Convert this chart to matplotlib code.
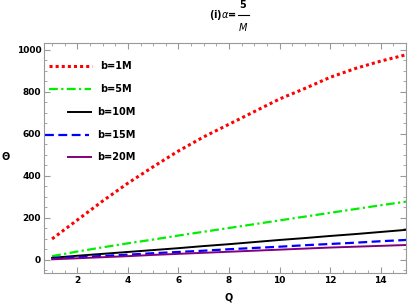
import matplotlib
matplotlib.use("Agg")
import matplotlib.pyplot as plt
from matplotlib.ticker import MultipleLocator

Q = [1, 2, 3, 4, 5, 6, 7, 8, 9, 10, 11, 12, 13, 14, 15]
b1 = [100, 190, 280, 365, 443, 518, 585, 645, 705, 765, 815, 868, 910, 945, 975]
b5 = [18, 40, 60, 79, 97, 116, 134, 152, 170, 188, 206, 224, 242, 260, 277]
b10 = [10, 20, 29, 38, 47, 56, 66, 75, 85, 95, 104, 114, 123, 133, 143]
b15 = [6, 13, 19, 25, 32, 38, 44, 51, 57, 63, 70, 76, 82, 89, 95]
b20 = [3, 8, 13, 18, 24, 29, 34, 39, 44, 49, 54, 59, 63, 67, 71]
labels = ["b=1M", "b=5M", "b=10M", "b=15M", "b=20M"]

fig = plt.figure(figsize=(4.15, 3.04), dpi=100)
W, H = 415, 304
ax = fig.add_axes([44 / W, 1 - 273 / H, (406 - 44) / W, (273 - 43) / H])

styles = [
    dict(color="#ff0000", linestyle=(0, (1, 1)), linewidth=2.2),
    dict(color="#00ee00", linestyle=(0, (4, 1.5, 1, 1.5)), linewidth=1.6),
    dict(color="black", linestyle="-", linewidth=1.4),
    dict(color="#0000ff", linestyle=(0, (4, 2)), linewidth=1.6),
    dict(color="#800080", linestyle="-", linewidth=1.4),
]
series = [b1, b5, b10, b15, b20]
for s, st in zip(series, styles):
    ax.plot(Q, s, **st)

ax.set_xlim(0.68, 15.0)
ax.set_ylim(-62, 1031)
ax.xaxis.set_major_locator(MultipleLocator(2))
ax.xaxis.set_minor_locator(MultipleLocator(0.5))
ax.yaxis.set_major_locator(MultipleLocator(200))
ax.yaxis.set_minor_locator(MultipleLocator(50))
ax.tick_params(which="both", direction="in", top=True, right=True, color="#999999")
ax.tick_params(which="major", length=4, width=0.8, labelsize=6.5, pad=2)
ax.tick_params(which="minor", length=2, width=0.6)
for lab in ax.get_xticklabels() + ax.get_yticklabels():
    lab.set_fontweight("bold")
for sp in ax.spines.values():
    sp.set_color("#999999")
    sp.set_linewidth(0.8)

fig.text(229 / W, 1 - 298 / H, "Q", ha="center", va="center", fontsize=7, fontweight="bold")
fig.text(6 / W, 1 - 157 / H, "Θ", ha="center", va="center", fontsize=7, fontweight="bold")
fig.text(237 / W, 1 - 15 / H, r"(i)$\alpha$=", ha="right", va="center", fontsize=7, fontweight="bold")
fig.text(243 / W, 1 - 5 / H, "5", ha="center", va="center", fontsize=7, fontweight="bold")
fig.text(243 / W, 1 - 27 / H, r"$M$", ha="center", va="center", fontsize=7)
fig.add_artist(plt.Line2D([237.5 / W, 249 / W], [1 - 14.5 / H, 1 - 14.5 / H], color="black", linewidth=0.8))

# legend drawn manually (Mathematica style)
leg = [(48.7, 91.7, 65.7, 100), (48.5, 91, 89.3, 100), (68, 90.7, 111.7, 96.7),
       (44.5, 89, 134.7, 97), (68, 91, 157.3, 97)]
for (x0, x1, y, xt), lab, st in zip(leg, labels, styles):
    ax.plot([x0 / W, x1 / W], [1 - y / H, 1 - y / H], transform=fig.transFigure, clip_on=False, **st)
    fig.text(xt / W, 1 - y / H, lab, ha="left", va="center", fontsize=7, fontweight="bold")

fig.savefig("out.png", dpi=100)
